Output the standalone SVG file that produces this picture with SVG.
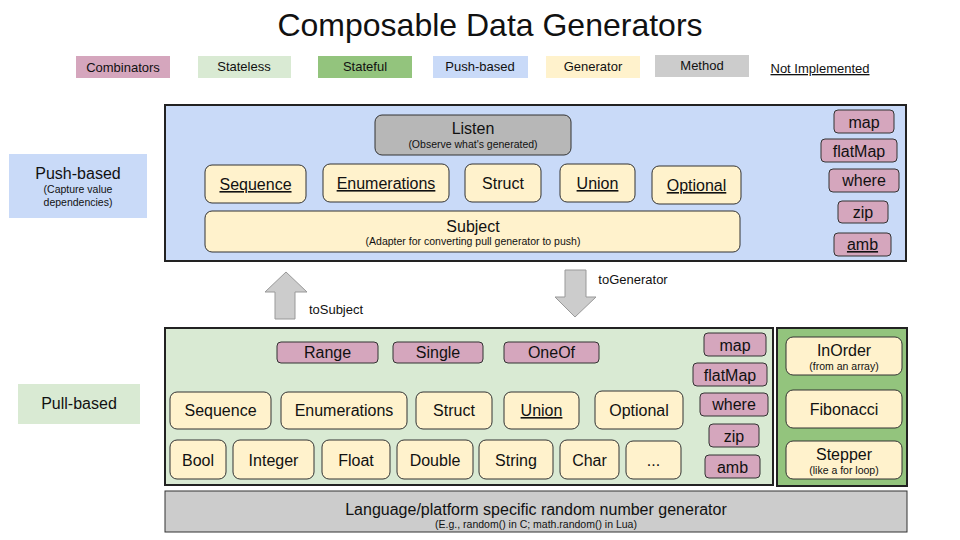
<svg xmlns="http://www.w3.org/2000/svg" width="960" height="540" viewBox="0 0 960 540">
<style>
text{font-family:"Liberation Sans",Arial,sans-serif;fill:#111;text-anchor:middle}
.t{font-size:32px}
.lg{font-size:13px}
.l{font-size:16px}
.s{font-size:10.5px}
.u{text-decoration:underline}
.cont{stroke:#222;stroke-width:2}
.nd{stroke:#333;stroke-width:1}
.comb{fill:#d5a6bd}
.gen{fill:#fff2cc}
.meth{fill:#b7b7b7}
.arr{fill:#cccccc;stroke:#999;stroke-width:1}
</style>
<rect width="960" height="540" fill="#fff"/>
<text class="t" x="490" y="36">Composable Data Generators</text>

<g id="legend">
<rect x="76" y="56" width="94" height="22" fill="#d5a6bd"/><text class="lg" x="123" y="72">Combinators</text>
<rect x="198" y="56" width="93" height="22" fill="#d9ead3"/><text class="lg" x="244" y="71">Stateless</text>
<rect x="318" y="56" width="94" height="22" fill="#93c47d"/><text class="lg" x="365" y="71">Stateful</text>
<rect x="433" y="56" width="95" height="22" fill="#c9daf8"/><text class="lg" x="480" y="71">Push-based</text>
<rect x="546" y="56" width="94" height="22" fill="#fff2cc"/><text class="lg" x="593" y="71">Generator</text>
<rect x="655" y="55" width="94" height="22" fill="#cccccc"/><text class="lg" x="702" y="70">Method</text>
<text class="lg u" x="820" y="73">Not Implemented</text>
</g>

<g id="label-push">
<rect x="9" y="154" width="138" height="64" fill="#c9daf8"/>
<text class="l" x="78" y="179">Push-based</text>
<text class="s" x="78" y="193">(Capture value</text>
<text class="s" x="78" y="206">dependencies)</text>
</g>
<g id="label-pull">
<rect x="18" y="384" width="122" height="40" fill="#d9ead3"/>
<text class="l" x="79" y="409">Pull-based</text>
</g>

<g id="push">
<rect class="cont" x="165" y="105" width="741" height="156" fill="#c9daf8"/>
<g id="listen"><rect class="nd meth" x="375" y="115" width="196" height="40" rx="7"/>
<text class="l" x="473" y="134">Listen</text><text class="s" x="473" y="148">(Observe what's generated)</text></g>
<g id="p-seq"><rect class="nd gen" x="205" y="165" width="101" height="38" rx="7"/><text class="l u" x="255.5" y="190">Sequence</text></g>
<g id="p-enum"><rect class="nd gen" x="323" y="164" width="126" height="38" rx="7"/><text class="l u" x="386" y="189">Enumerations</text></g>
<g id="p-struct"><rect class="nd gen" x="465" y="164" width="76" height="38" rx="7"/><text class="l" x="503" y="189">Struct</text></g>
<g id="p-union"><rect class="nd gen" x="560" y="164" width="75" height="38" rx="7"/><text class="l u" x="597.5" y="189">Union</text></g>
<g id="p-opt"><rect class="nd gen" x="652" y="166" width="89" height="38" rx="7"/><text class="l u" x="696.5" y="191">Optional</text></g>
<g id="subject"><rect class="nd gen" x="205" y="211" width="535" height="41" rx="7"/>
<text class="l" x="473" y="232">Subject</text><text class="s" x="473" y="245">(Adapter for converting pull generator to push)</text></g>
<g id="p-map"><rect class="nd comb" x="834" y="110" width="60" height="23" rx="4"/><text class="l" x="864" y="128">map</text></g>
<g id="p-flatmap"><rect class="nd comb" x="821" y="139" width="76" height="23" rx="4"/><text class="l" x="859" y="157">flatMap</text></g>
<g id="p-where"><rect class="nd comb" x="829" y="169" width="70" height="23" rx="4"/><text class="l" x="864" y="186">where</text></g>
<g id="p-zip"><rect class="nd comb" x="838" y="201" width="50" height="22" rx="4"/><text class="l" x="863" y="218">zip</text></g>
<g id="p-amb"><rect class="nd comb" x="834" y="233" width="57" height="23" rx="4"/><text class="l u" x="862.5" y="250">amb</text></g>
</g>

<g id="connectors">
<path class="arr" d="M286 272 L307 292 L295 292 L295 319 L275 319 L275 292 L265 292 Z"/>
<text class="lg" x="336" y="314">toSubject</text>
<path class="arr" d="M565 270 L586 270 L586 297 L596 297 L575 317 L555 297 L565 297 Z"/>
<text class="lg" x="633" y="284">toGenerator</text>
</g>

<g id="pull">
<rect class="cont" x="165" y="328" width="608" height="157" fill="#d9ead3"/>
<g id="range"><rect class="nd comb" x="277" y="342" width="101" height="21" rx="4"/><text class="l" x="327.5" y="358">Range</text></g>
<g id="single"><rect class="nd comb" x="393" y="342" width="90" height="21" rx="4"/><text class="l" x="438" y="358">Single</text></g>
<g id="oneof"><rect class="nd comb" x="504" y="342" width="95" height="21" rx="4"/><text class="l" x="551.5" y="358">OneOf</text></g>
<g id="seq"><rect class="nd gen" x="170" y="392" width="101" height="37" rx="7"/><text class="l" x="220.5" y="416">Sequence</text></g>
<g id="enum"><rect class="nd gen" x="281" y="392" width="126" height="37" rx="7"/><text class="l" x="344" y="416">Enumerations</text></g>
<g id="struct"><rect class="nd gen" x="416" y="392" width="76" height="37" rx="7"/><text class="l" x="454" y="416">Struct</text></g>
<g id="union"><rect class="nd gen" x="504" y="392" width="75" height="37" rx="7"/><text class="l u" x="541.5" y="416">Union</text></g>
<g id="opt"><rect class="nd gen" x="595" y="391" width="88" height="38" rx="7"/><text class="l" x="639" y="416">Optional</text></g>
<g id="bool"><rect class="nd gen" x="170" y="440" width="56" height="39" rx="7"/><text class="l" x="198" y="466">Bool</text></g>
<g id="integer"><rect class="nd gen" x="233" y="440" width="81" height="39" rx="7"/><text class="l" x="273.5" y="466">Integer</text></g>
<g id="float"><rect class="nd gen" x="322" y="440" width="68" height="39" rx="7"/><text class="l" x="356" y="466">Float</text></g>
<g id="double"><rect class="nd gen" x="397" y="440" width="76" height="39" rx="7"/><text class="l" x="435" y="466">Double</text></g>
<g id="string"><rect class="nd gen" x="479" y="440" width="74" height="39" rx="7"/><text class="l" x="516" y="466">String</text></g>
<g id="char"><rect class="nd gen" x="560" y="440" width="59" height="39" rx="7"/><text class="l" x="589.5" y="466">Char</text></g>
<g id="more"><rect class="nd gen" x="626" y="441" width="55" height="38" rx="7"/><text class="l" x="653.5" y="466">...</text></g>
<g id="map"><rect class="nd comb" x="704" y="333" width="62" height="23" rx="4"/><text class="l" x="735" y="351">map</text></g>
<g id="flatmap"><rect class="nd comb" x="693" y="363" width="74" height="23" rx="4"/><text class="l" x="730" y="381">flatMap</text></g>
<g id="where"><rect class="nd comb" x="700" y="393" width="68" height="23" rx="4"/><text class="l" x="734" y="410">where</text></g>
<g id="zip"><rect class="nd comb" x="709" y="424" width="50" height="23" rx="4"/><text class="l" x="734" y="442">zip</text></g>
<g id="amb"><rect class="nd comb" x="705" y="455" width="55" height="23" rx="4"/><text class="l" x="732.5" y="473">amb</text></g>
</g>

<g id="stateful">
<rect class="cont" x="777" y="328" width="130" height="158" fill="#93c47d"/>
<g id="inorder"><rect class="nd gen" x="786" y="337" width="116" height="38" rx="7"/>
<text class="l" x="844" y="356">InOrder</text><text class="s" x="844" y="370">(from an array)</text></g>
<g id="fib"><rect class="nd gen" x="786" y="390" width="116" height="38" rx="7"/><text class="l" x="844" y="415">Fibonacci</text></g>
<g id="stepper"><rect class="nd gen" x="786" y="441" width="116" height="38" rx="7"/>
<text class="l" x="844" y="460">Stepper</text><text class="s" x="844" y="474">(like a for loop)</text></g>
</g>

<g id="rng">
<rect class="nd" x="165" y="491" width="742" height="41" fill="#cccccc"/>
<text class="l" x="536" y="515">Language/platform specific random number generator</text>
<text class="s" x="536" y="528">(E.g., random() in C; math.random() in Lua)</text>
</g>
</svg>
